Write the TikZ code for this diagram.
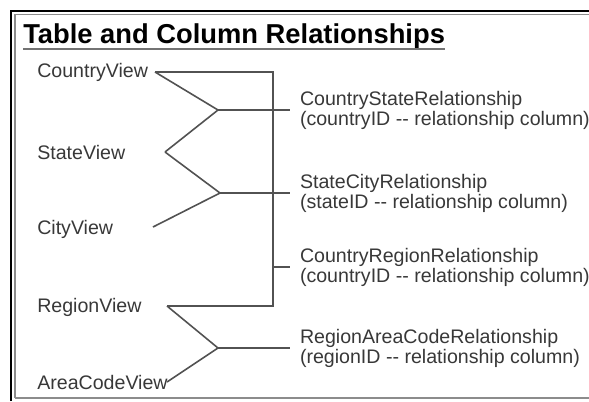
\documentclass[tikz,border=0pt]{standalone}
\usepackage{fontspec}
\setmainfont{Liberation Sans}
\begin{document}
\begin{tikzpicture}[x=0.75pt,y=-0.75pt,
  lbl/.style={anchor=west,inner sep=0pt,text=black!78,font=\fontsize{14.7pt}{15pt}\selectfont},
  rel/.style={anchor=west,inner sep=0pt,outer xsep=7.5pt,align=left,text=black!78,font=\fontsize{14.7pt}{15pt}\selectfont},
  conn/.style={draw=black!68,line width=1.2pt,line join=miter},
  ttl/.style={anchor=base west,inner sep=0pt,font=\fontsize{20.5pt}{21pt}\selectfont\bfseries}
]
\useasboundingbox (0,0) rectangle (589,401);
% frame
\draw[black,line width=1.3pt] (11,401) -- (11,11) -- (589,11);
\draw[black!45,line width=1.1pt] (15,398) -- (15,14.5) -- (589,14.5);
\draw[black!45,line width=1.1pt] (15,398) -- (589,398);
% title
\node[ttl] (title) at (23,43) {Table and Column Relationships};
\draw[black!55,line width=1.5pt] ([yshift=-4.5pt]title.base west) -- ([yshift=-4.5pt]title.base east);
% left labels
\node[lbl] (cv) at (37,72) {CountryView};
\node[lbl] (sv) at (37,152) {StateView};
\node[lbl] (ci) at (37,229) {CityView};
\node[lbl] (rv) at (37,307) {RegionView};
\node[lbl] (ac) at (37,382) {AreaCodeView};
% right labels
\node[rel] (r1) at (290,110) {CountryStateRelationship\\(countryID -{}- relationship column)};
\node[rel] (r2) at (290,193) {StateCityRelationship\\(stateID -{}- relationship column)};
\node[rel] (r3) at (290,267) {CountryRegionRelationship\\(countryID -{}- relationship column)};
\node[rel] (r4) at (290,348) {RegionAreaCodeRelationship\\(regionID -{}- relationship column)};
% connector ends
\coordinate (cvE) at (155,72);
\coordinate (svE) at (165,152);
\coordinate (ciE) at (153,227);
\coordinate (rvE) at (167,306);
\coordinate (acE) at (167,382);
\coordinate (j1) at (218,110);
\coordinate (j2) at (220,193);
\coordinate (j4) at (218,348);
\coordinate (v) at (273,267);
% connectors
\draw[conn] (cvE) -- (cvE -| v) -- (rvE -| v) -- (rvE);
\draw[conn] (cvE) -- (j1) -- (svE);
\draw[conn] (j1) -- (r1.west);
\draw[conn] (svE) -- (j2) -- (ciE);
\draw[conn] (j2) -- (r2.west);
\draw[conn] (v) -- (r3.west);
\draw[conn] (rvE) -- (j4) -- (acE);
\draw[conn] (j4) -- (r4.west);
\end{tikzpicture}
\end{document}
